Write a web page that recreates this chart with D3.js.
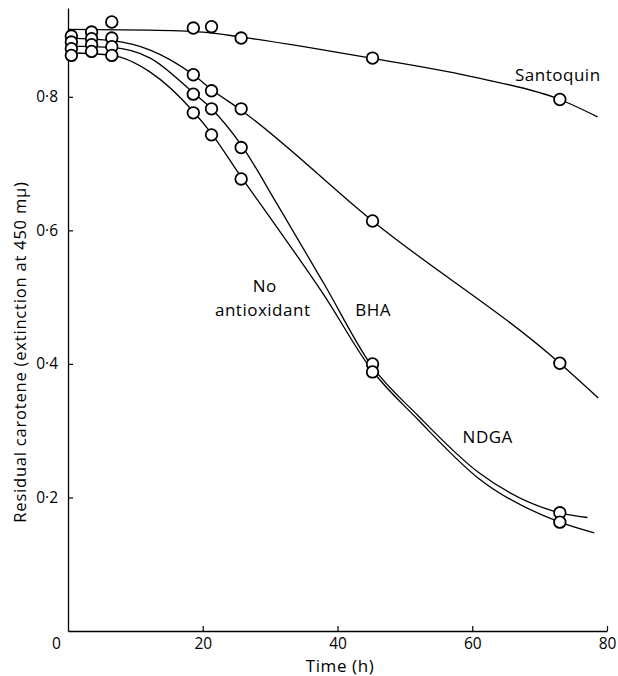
<!DOCTYPE html>
<html>
<head>
<meta charset="utf-8">
<script src="https://cdn.jsdelivr.net/npm/d3@7"></script>
<style>
  body { margin: 0; background: #fff; }
  svg { display: block; }
  svg text { font-family: "Open Sans", Lato, sans-serif; }
</style>
</head>
<body>
<div id="chart"></div>
<script>
// Data_______________________________________________________________________
const times = [0.5, 3.5, 6.5, 18.6, 21.3, 25.7, 45.2, 73];
const santoquin = [0.891, 0.897, 0.912, 0.903, 0.905, 0.888, 0.858, 0.796];
const ndga = [0.882, 0.887, 0.888, 0.833, 0.809, 0.782, 0.614, 0.401];
const bha = [0.872, 0.878, 0.875, 0.804, 0.782, 0.724, 0.400, 0.177];
const noAntioxidant = [0.862, 0.868, 0.862, 0.776, 0.743, 0.677, 0.388, 0.163];

// hand-fitted curves as drawn in the figure [time, value]
const santoquinCurve = [[0, 0.901], [12, 0.900], [20, 0.897], [26, 0.889], [35, 0.875], [45, 0.858], [61, 0.828], [73, 0.796], [78.6, 0.770]];
const ndgaCurve = [[0, 0.888], [6.5, 0.884], [12.2, 0.870], [18.6, 0.833], [21.3, 0.811], [25.7, 0.780], [45.2, 0.614], [73, 0.401], [78.7, 0.349]];
const bhaCurve = [[0, 0.876], [6.5, 0.874], [12.2, 0.858], [18.6, 0.806], [21.3, 0.782], [25.7, 0.728], [31, 0.640], [38, 0.520], [45, 0.398], [52, 0.322], [61, 0.237], [73, 0.177], [77.1, 0.170]];
const noAntioxidantCurve = [[0, 0.866], [6.5, 0.862], [12.2, 0.837], [18.6, 0.778], [21.3, 0.745], [25.7, 0.680], [30, 0.619], [38, 0.503], [45, 0.392], [52, 0.316], [61, 0.228], [73, 0.163], [78.1, 0.147]];

const xTicks = [0, 20, 40, 60, 80];
const yTicks = [0.2, 0.4, 0.6, 0.8];

const labels = [
    { text: 'Santoquin', t: 72.7, v: 0.824 },
    { text: 'NDGA', t: 62.3, v: 0.282 },
    { text: 'BHA', t: 45.3, v: 0.472 },
    { text: 'No', t: 29.2, v: 0.508 },
    { text: 'antioxidant', t: 28.9, v: 0.472 }
];

// Setup______________________________________________________________________
const width = 618;
const height = 676;

const x = d3.scaleLinear().domain([0, 80]).range([68, 607]);
const y = d3.scaleLinear().domain([0, 0.933]).range([631, 8]);

const svg = d3.select('#chart')
    .append('svg')
    .attr('width', width)
    .attr('height', height);

svg.append('rect').attr('width', width).attr('height', height).attr('fill', '#fff');

// Axes_______________________________________________________________________
const fmt = d => d3.format('.1f')(d).replace('.', '·');

const xAxis = svg.append('g')
    .attr('transform', `translate(0, ${y(0)})`)
    .call(d3.axisBottom(x).tickValues(xTicks).tickSizeInner(-5).tickSizeOuter(0).tickPadding(7));
xAxis.select('.domain').attr('stroke', '#000').attr('stroke-width', 1.3);
xAxis.selectAll('.tick line').attr('stroke', '#000').attr('stroke-width', 1.2)
    .filter(d => d === 0).remove();
xAxis.selectAll('.tick text')
    .attr('font-size', 15.5)
    .attr('fill', '#000')
    .attr('dx', d => d === 0 ? -12 : 0);

const yAxis = svg.append('g')
    .attr('transform', `translate(${x(0)}, 0)`)
    .call(d3.axisLeft(y).tickValues(yTicks).tickFormat(fmt).tickSizeInner(-5).tickSizeOuter(0).tickPadding(10));
yAxis.select('.domain').attr('stroke', '#000').attr('stroke-width', 1.3);
yAxis.selectAll('.tick line').attr('stroke', '#000').attr('stroke-width', 1.2);
yAxis.selectAll('.tick text').attr('font-size', 15.5).attr('fill', '#000');

svg.append('text')
    .attr('x', 340)
    .attr('y', 672)
    .attr('text-anchor', 'middle')
    .attr('font-size', 17)
    .attr('letter-spacing', 0.6)
    .text('Time (h)');

svg.append('text')
    .attr('transform', 'translate(26, 352) rotate(-90)')
    .attr('text-anchor', 'middle')
    .attr('font-size', 16.5)
    .attr('letter-spacing', 0.8)
    .text('Residual carotene (extinction at 450 mμ)');

// Curves_____________________________________________________________________
const line = d3.line()
    .x(d => x(d[0]))
    .y(d => y(d[1]))
    .curve(d3.curveMonotoneX);

svg.append('g')
    .selectAll('path')
    .data([santoquinCurve, ndgaCurve, bhaCurve, noAntioxidantCurve])
    .enter()
    .append('path')
    .attr('d', line)
    .attr('fill', 'none')
    .attr('stroke', '#000')
    .attr('stroke-width', 1.3);

// Points_____________________________________________________________________
const series = [santoquin, ndga, bha, noAntioxidant];
const points = [];
series.forEach(s => s.forEach((v, i) => points.push([times[i], v])));

svg.append('g')
    .selectAll('circle')
    .data(points)
    .enter()
    .append('circle')
    .attr('cx', d => x(d[0]))
    .attr('cy', d => y(d[1]))
    .attr('r', 5.8)
    .attr('fill', '#fff')
    .attr('stroke', '#000')
    .attr('stroke-width', 1.8);

// Labels_____________________________________________________________________
svg.append('g')
    .selectAll('text')
    .data(labels)
    .enter()
    .append('text')
    .attr('x', d => x(d.t))
    .attr('y', d => y(d.v))
    .attr('text-anchor', 'middle')
    .attr('font-size', 17)
    .attr('letter-spacing', 0.5)
    .text(d => d.text);
</script>
</body>
</html>
